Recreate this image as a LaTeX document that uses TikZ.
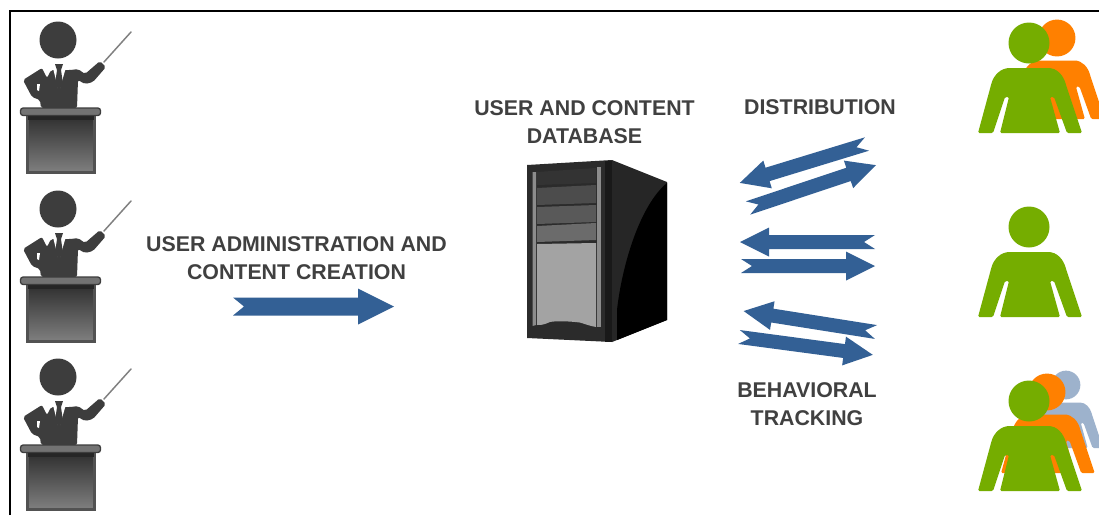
\documentclass[tikz,border=0pt]{standalone}
\usepackage{fontspec}
\setmainfont{Liberation Sans}
\definecolor{arrowblue}{HTML}{336095}
\definecolor{dark}{HTML}{3D3D3D}
\definecolor{txt}{HTML}{404040}
\definecolor{pgreen}{HTML}{75AD00}
\definecolor{porange}{HTML}{FF8000}
\definecolor{pblue}{HTML}{9DB2CC}
\newcommand{\barrow}[6]{% x y angle length shaft-half head-half
  \fill[arrowblue,shift={(#1,#2)},rotate=#3]
    (0,-#5) -- (#4-#6*2,-#5) -- (#4-#6*2,-#6) -- (#4,0) -- (#4-#6*2,#6) -- (#4-#6*2,#5) -- (0,#5) -- (11,0) -- cycle;}
\tikzset{
  label text/.style={font=\fontsize{16}{21}\selectfont\bfseries,text=txt,align=center,inner sep=0pt},
  pics/presenter/.style={code={
    \fill[dark] (58,40) circle (18.5);
    \draw[gray,line width=1.1pt,line cap=round] (104,62) -- (131,32);
    \fill[dark,rounded corners=1.5] (23,80) -- (42,68) -- (47,78) -- (51,70) -- (71,70) -- (78,69) -- (85,74) -- (100,61) -- (106,67) -- (93,82) -- (85,84) -- (78,80) -- (77,108) -- (41,108) -- (40,100) -- (32,97) -- cycle;
    \fill[white] (37,84) -- (40,84) -- (39,91) -- (37,90) -- cycle;
    \fill[white] (52,64) -- (67,64) -- (60,88) -- (58,88) -- cycle;
    \fill[dark] (55,64) -- (63,64) -- (61,70) -- (63,84) -- (59,90) -- (55,84) -- (57,70) -- cycle;
    \draw[top color=black!82,bottom color=black!50,draw=black!68,line width=1.6pt] (27.5,115) rectangle (94.5,172.5);
    \fill[black!85] (28,116) rectangle (94,119.5);
    \draw[fill=black!55,draw=dark,line width=1pt,rounded corners=2] (20.5,108) rectangle (100.5,115.5);
  }},
  pics/person/.style={code={
    \fill[#1] (0,0) circle (20.5);
    \fill[#1,rounded corners=1pt] (-51,90) -- (-38,42) to[out=75,in=180] (-18,25) -- (18,25) to[out=0,in=105] (37,42) -- (53,90) -- (38,90) -- (25,54) -- (21,54) -- (31,90) -- (-29,90) -- (-20,54) -- (-24,54) -- (-36,90) -- cycle;
  }}
}
\begin{document}
\begin{tikzpicture}[x=0.75pt,y=-0.75pt]
\useasboundingbox (0,0) rectangle (1099,515);
\clip (0,0) rectangle (1099,515);
\fill[white] (0,0) rectangle (1099,515);
% frame
\draw[black,line width=1.5pt] (10,515) -- (10,11) -- (1099,11);
% presenters
\pic at (0,0) {presenter};
\pic at (0,169) {presenter};
\pic at (0,337) {presenter};
% labels
\node[label text] (admin) at (296.5,258) {USER ADMINISTRATION AND\\CONTENT CREATION};
\node[label text] (db) at (584.5,122) {USER AND CONTENT\\DATABASE};
\node[label text] (dist) at (820,107) {DISTRIBUTION};
\node[label text] (track) at (807,404) {BEHAVIORAL\\TRACKING};
% main arrow
\barrow{233}{306.5}{0}{161}{9}{18}
% server
\fill[black!83] (527,165) -- (612,160) -- (612,342) -- (527,338) -- cycle;
\fill[black!85] (612,160) -- (667,182) -- (667,320) -- (612,342) -- cycle;
\fill[black] (667,183) .. controls (640,205) and (622,265) .. (617,310) -- (617,340) -- (667,320) -- cycle;
\fill[black!90] (605,161) rectangle (612,342);
\fill[black!45] (532.5,172) -- (536,172) -- (536,325) -- (532.5,326) -- cycle;
\fill[black!45] (597,167) -- (600.5,167) -- (600.5,327) -- (597,327) -- cycle;
\fill[black!80] (537,172) -- (596,168) -- (596,183) -- (537,185) -- cycle;
\fill[black!70] (537,188) -- (596,185) -- (596,203) -- (537,205) -- cycle;
\fill[black!65] (537,207) -- (596,205) -- (596,222) -- (537,224) -- cycle;
\fill[black!58] (537,226) -- (596,223) -- (596,240) -- (537,242) -- cycle;
\fill[black!36] (537,244) -- (596,243) -- (596,327) .. controls (585,325) and (582,322) .. (575,322) .. controls (565,321) and (555,321) .. (550,322) .. controls (546,323) and (546,325) .. (537,325) -- cycle;
% exchange arrows
\barrow{867}{144}{197}{133}{7}{14.5}
\barrow{748}{208}{18.5}{135}{7}{14.5}
\barrow{875}{242}{180}{135}{7}{14.5}
\barrow{741}{266}{0}{134}{7}{14.5}
\barrow{876}{332}{171}{134}{7}{14.5}
\barrow{739}{337}{-7.6}{135}{7}{14.5}
% people
\pic[scale=0.9] at (1057,38) {person=porange};
\pic at (1029,43) {person=pgreen};
\pic at (1029,227) {person=pgreen};
\pic[scale=0.7] at (1066,385) {person=pblue};
\pic[scale=0.9] at (1047,392) {person=porange};
\pic at (1029,401) {person=pgreen};
\end{tikzpicture}
\end{document}
